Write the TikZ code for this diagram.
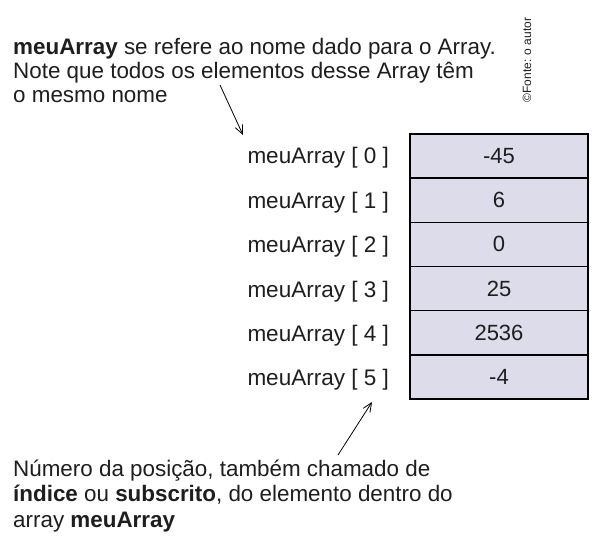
\documentclass[tikz,border=0pt]{standalone}
\usepackage{fontspec}
\setmainfont{Liberation Sans}
\usetikzlibrary{arrows.meta}
\definecolor{cellfill}{HTML}{DCDCEA}
\definecolor{txt}{HTML}{1E1E1E}
\begin{document}
\begin{tikzpicture}[x=1pt,y=-1pt,
  cell/.style={draw=black,line width=1.1pt,fill=cellfill,minimum width=178pt,minimum height=44pt,inner sep=0pt,font=\fontsize{22}{24}\selectfont,text=txt},
  lbl/.style={anchor=east,inner sep=0pt,font=\fontsize{22.5}{24}\selectfont,text=txt},
  note/.style={anchor=base west,inner sep=0pt,font=\fontsize{22.4}{24}\selectfont,text=txt},
  pointer/.style={line width=0.8pt,-{Straight Barb[length=9pt,width=8pt]}}]
\useasboundingbox (0,0) rectangle (603,555);
\fill[white] (0,0) rectangle (603,555);
\foreach \v [count=\i from 0] in {-45,6,0,25,2536,-4}{
  \node[cell] (c\i) at (499,{156+44.2*\i}) {\v};
  \node[lbl] (l\i) at (389,{158+44.4*\i}) {meuArray [ \i\ ]};
}
\draw[line width=1pt] (c0.north west) rectangle (c5.south east);
\node[note] (t1) at (13,54) {\textbf{meuArray} se refere ao nome dado para o Array.};
\node[note] (t2) at (13,78) {Note que todos os elementos desse Array têm};
\node[note] (t3) at (13,102) {o mesmo nome};
\node[note] (b1) at (13,476) {Número da posição, também chamado de};
\node[note] (b2) at (13,501.5) {\textbf{índice} ou \textbf{subscrito}, do elemento dentro do};
\node[note] (b3) at (13,527) {array \textbf{meuArray}};
\coordinate (a1s) at (220,85);
\coordinate (a1e) at (243,135);
\draw[pointer] (a1s) -- (a1e);
\coordinate (a2s) at (338,455);
\coordinate (a2e) at (372,402);
\draw[pointer] (a2s) -- (a2e);
\node[rotate=90,inner sep=0pt,font=\fontsize{12}{14}\selectfont,text=txt] (src) at (527,60) {©Fonte: o autor};
\end{tikzpicture}
\end{document}
